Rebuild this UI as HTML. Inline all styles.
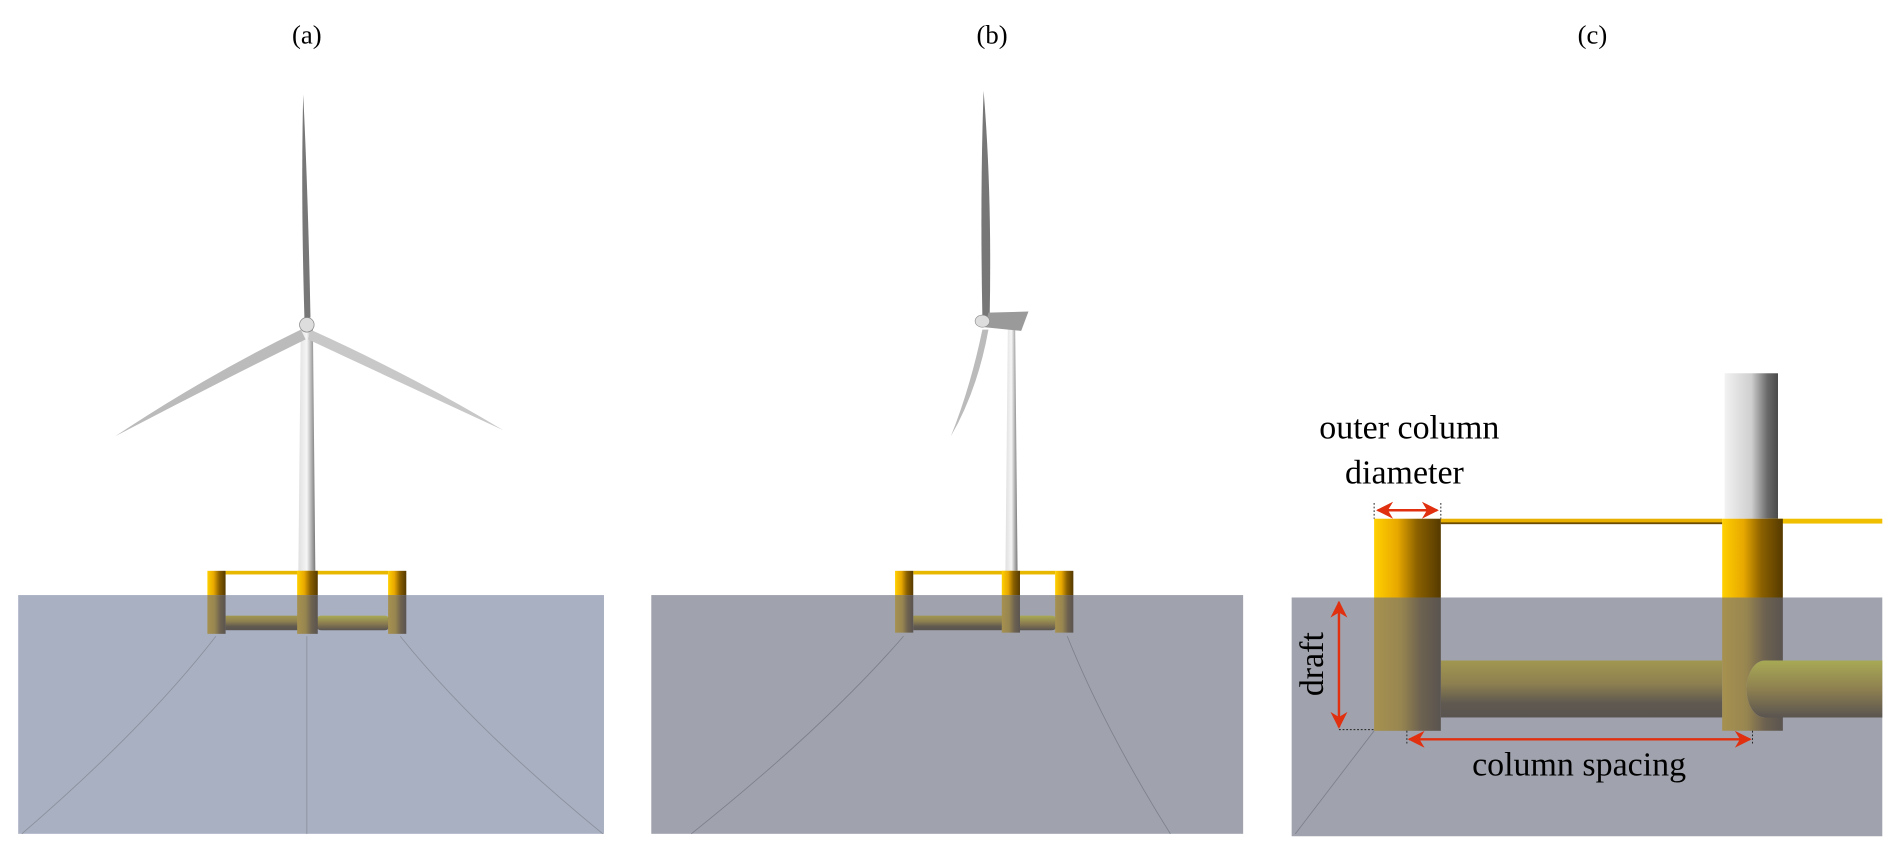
<!DOCTYPE html>
<html><head><meta charset="utf-8"><style>html,body{margin:0;padding:0;background:#fff;width:1892px;height:852px;overflow:hidden}svg{display:block}</style></head>
<body>
<svg width="1892" height="852" viewBox="0 0 1560 703" preserveAspectRatio="none" xmlns="http://www.w3.org/2000/svg" style="font-family:'Liberation Serif',serif">
<defs>
<linearGradient id="yc" x1="0" x2="1" y1="0" y2="0"><stop offset="0" stop-color="#ffd000"/><stop offset="0.35" stop-color="#e8a800"/><stop offset="0.65" stop-color="#8a6000"/><stop offset="1" stop-color="#553a00"/></linearGradient>
<linearGradient id="uc" x1="0" x2="1" y1="0" y2="0"><stop offset="0" stop-color="#a6914f"/><stop offset="0.4" stop-color="#988650"/><stop offset="0.7" stop-color="#6d6250"/><stop offset="1" stop-color="#5a5450"/></linearGradient>
<linearGradient id="up" x1="0" x2="0" y1="0" y2="1"><stop offset="0" stop-color="#a19750"/><stop offset="0.4" stop-color="#8e8050"/><stop offset="0.75" stop-color="#5f5950"/><stop offset="1" stop-color="#5a5450"/></linearGradient>
<linearGradient id="upg" x1="0" x2="0" y1="0" y2="1"><stop offset="0" stop-color="#a8aa55"/><stop offset="0.5" stop-color="#8e8050"/><stop offset="1" stop-color="#5a5450"/></linearGradient>
<linearGradient id="tw" x1="0" x2="1" y1="0" y2="0"><stop offset="0" stop-color="#f2f2f2"/><stop offset="0.5" stop-color="#cfcfcf"/><stop offset="0.8" stop-color="#6a6a6a"/><stop offset="1" stop-color="#4a4a4a"/></linearGradient>
<linearGradient id="tws" x1="0" x2="1" y1="0" y2="0"><stop offset="0" stop-color="#e0e0e0"/><stop offset="0.5" stop-color="#f5f5f5"/><stop offset="1" stop-color="#777"/></linearGradient>
<marker id="ar" viewBox="0 0 10 10" refX="9" refY="5" markerWidth="7" markerHeight="7" orient="auto-start-reverse"><path d="M0,0 L10,5 L0,10 L3,5 z" fill="#e03010"/></marker>
</defs>

<text x="253" y="36" font-size="22" text-anchor="middle">(a)</text>
<text x="818" y="36" font-size="22" text-anchor="middle">(b)</text>
<text x="1313" y="36" font-size="22" text-anchor="middle">(c)</text>

<rect x="15" y="491" width="483" height="197" fill="#a9b0c2"/>
<g fill="none" stroke="#8a8f9a" stroke-width="0.7">
<path d="M178,525 Q120,600 18,688"/><path d="M253,525 L253,688"/><path d="M330,525 Q390,600 497,688"/>
</g>
<polygon points="248,270 258,270 260,471 246,471" fill="url(#tws)"/>
<path d="M251,262 Q248,160 250,78 Q254,160 256,262 Z" fill="#777"/>
<path d="M248,272 Q170,310 95,360 Q175,318 252,280 Z" fill="#bbb"/>
<path d="M256,272 Q340,310 415,355 Q335,318 254,280 Z" fill="#c8c8c8"/>
<circle cx="253" cy="268" r="6" fill="#ddd" stroke="#888" stroke-width="0.6"/>
<rect x="186" y="471" width="134" height="3" fill="#e8b800"/>
<rect x="171" y="471" width="15" height="20" fill="url(#yc)"/>
<rect x="245" y="471" width="17" height="20" fill="url(#yc)"/>
<rect x="320" y="471" width="15" height="20" fill="url(#yc)"/>
<rect x="186" y="508" width="60" height="12" fill="url(#up)"/>
<rect x="260" y="508" width="62" height="12" rx="5" fill="url(#upg)"/>
<rect x="171" y="491" width="15" height="32" fill="url(#uc)"/>
<rect x="245" y="491" width="17" height="32" fill="url(#uc)"/>
<rect x="320" y="491" width="15" height="32" fill="url(#uc)"/>

<rect x="537" y="491" width="488" height="197" fill="#a0a3ad"/>
<g fill="none" stroke="#7d808a" stroke-width="0.7">
<path d="M745,525 Q680,600 570,688"/><path d="M880,525 Q910,600 965,688"/>
</g>
<polygon points="831,268 837,268 839,471 829,471" fill="url(#tws)"/>
<path d="M810,262 Q808,160 811,75 Q818,160 816,262 Z" fill="#777"/>
<path d="M810,272 Q800,320 784,360 Q806,322 815,272 Z" fill="#bbb"/>
<polygon points="815,258 848,257 842,273 812,270" fill="#9a9a9a"/>
<ellipse cx="810" cy="265" rx="6" ry="5" fill="#ddd" stroke="#888" stroke-width="0.5"/>
<rect x="753" y="471" width="117" height="3" fill="#e8b800"/>
<rect x="738" y="471" width="15" height="20" fill="url(#yc)"/>
<rect x="826" y="471" width="15" height="20" fill="url(#yc)"/>
<rect x="870" y="471" width="15" height="20" fill="url(#yc)"/>
<rect x="753" y="508" width="75" height="12" fill="url(#up)"/>
<rect x="834" y="508" width="38" height="12" rx="5" fill="url(#upg)"/>
<rect x="738" y="491" width="15" height="31" fill="url(#uc)"/>
<rect x="826" y="491" width="15" height="31" fill="url(#uc)"/>
<rect x="870" y="491" width="15" height="31" fill="url(#uc)"/>

<rect x="1065" y="493" width="487" height="197" fill="#a0a3ad"/>
<path d="M1133,603 L1068,688" stroke="#7d808a" stroke-width="0.7" fill="none"/>
<rect x="1422" y="308" width="44" height="120" fill="url(#tw)"/>
<rect x="1188" y="428" width="232" height="4" fill="#e8b000"/>
<rect x="1188" y="431" width="232" height="1.5" fill="#6a4a00"/>
<rect x="1458" y="428" width="94" height="4" fill="#f0c000"/>
<rect x="1133" y="428" width="55" height="65" fill="url(#yc)"/>
<rect x="1420" y="428" width="50" height="65" fill="url(#yc)"/>
<rect x="1188" y="545" width="232" height="47" fill="url(#up)"/>
<path d="M1552,545 L1455,545 A15,23.5 0 0 0 1455,592 L1552,592 Z" fill="url(#upg)"/>
<rect x="1133" y="493" width="55" height="110" fill="url(#uc)"/>
<path d="M1420,493 L1470,493 L1470,545 L1455,545 A15,23.5 0 0 0 1455,592 L1470,592 L1470,603 L1420,603 Z" fill="url(#uc)"/>

<g stroke="#222" stroke-width="0.8" stroke-dasharray="1.5,1.5" fill="none">
<path d="M1133,415 L1133,428"/><path d="M1188,415 L1188,428"/>
<path d="M1104,602 L1133,602"/>
<path d="M1160,603 L1160,614"/><path d="M1445,603 L1445,614"/>
</g>
<g stroke="#e03010" stroke-width="2" fill="none">
<line x1="1136" y1="421" x2="1185" y2="421" marker-start="url(#ar)" marker-end="url(#ar)"/>
<line x1="1104" y1="497" x2="1104" y2="600" marker-start="url(#ar)" marker-end="url(#ar)"/>
<line x1="1162" y1="610" x2="1443" y2="610" marker-start="url(#ar)" marker-end="url(#ar)"/>
</g>
<text x="1162" y="362" font-size="28" text-anchor="middle">outer column</text>
<text x="1158" y="399" font-size="28" text-anchor="middle">diameter</text>
<text x="1302" y="640" font-size="28" text-anchor="middle">column spacing</text>
<text transform="translate(1091,548) rotate(-90)" font-size="28" text-anchor="middle">draft</text>
</svg>
</body></html>
